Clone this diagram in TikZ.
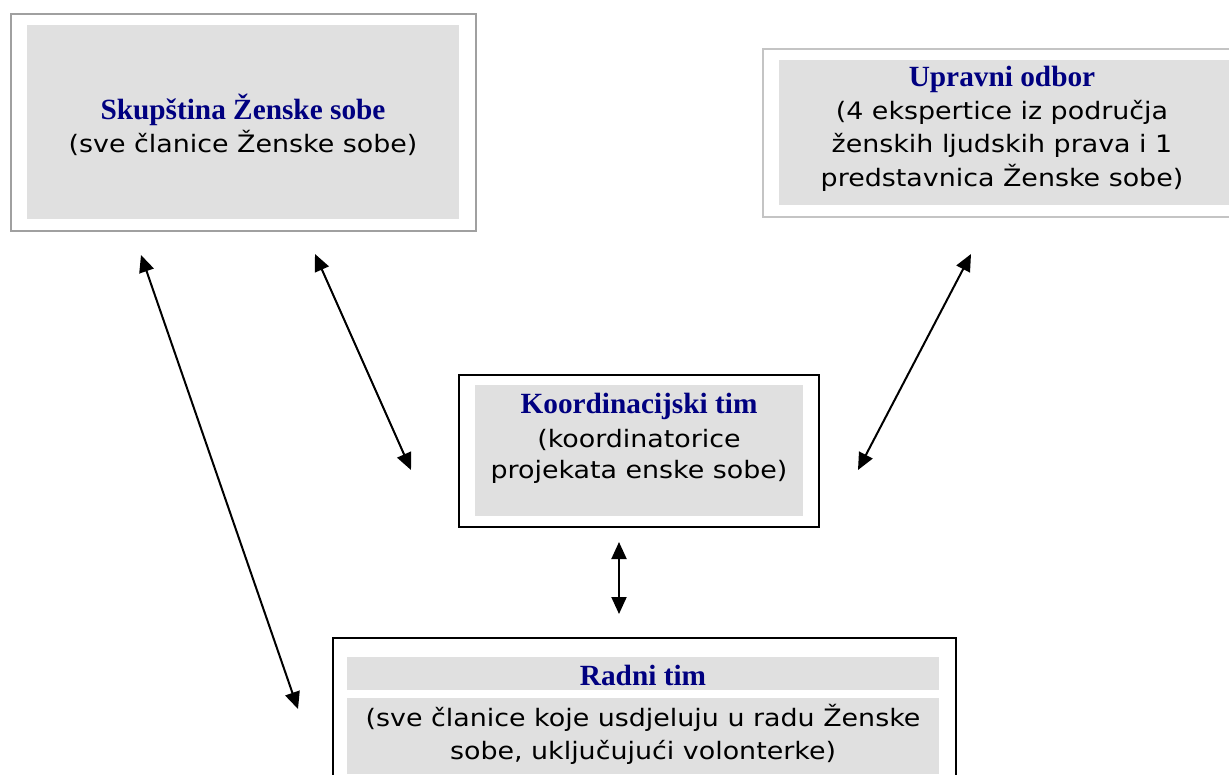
\documentclass[tikz,border=0pt]{standalone}
\usepackage{fontspec}
\setmainfont{DejaVu Sans}[FakeStretch=1.12]
\newfontfamily\titlefont{Liberation Serif}
\usetikzlibrary{arrows.meta}
\definecolor{titleblue}{RGB}{0,0,128}
\definecolor{fillgray}{RGB}{224,224,224}
\definecolor{framegray}{RGB}{160,160,160}
\definecolor{framelight}{RGB}{196,196,196}

\begin{document}
\begin{tikzpicture}[x=1pt,y=-1pt,>={Triangle[length=17pt,width=15pt]}]
    \tikzstyle{frame}=[draw=black,line width=2pt,inner sep=0pt,anchor=north west]
    \tikzstyle{panel}=[fill=fillgray,inner sep=0pt,anchor=north west]
    \tikzstyle{title}=[font=\titlefont\bfseries\fontsize{29.3}{33}\selectfont,text=titleblue,anchor=base,inner sep=0pt]
    \tikzstyle{body}=[font=\fontsize{24}{33}\selectfont,anchor=base,inner sep=0pt]
    \tikzstyle{link}=[<->,line width=2pt]

    \useasboundingbox (0,0) rectangle (1229,774);

    % Draw the frames and the gray panels
    \node[frame,draw=framegray,minimum width=465pt,minimum height=217pt] (skup-frame) at (10,13) {};
    \node[panel,minimum width=432pt,minimum height=194pt] (skup-panel) at (27,25) {};
    \node[frame,draw=framelight,minimum width=480pt,minimum height=168pt] (upr-frame) at (762,48) {};
    \node[panel,minimum width=452pt,minimum height=145pt] (upr-panel) at (779,60) {};
    \node[frame,minimum width=360pt,minimum height=152pt] (koord-frame) at (458,374) {};
    \node[panel,minimum width=328pt,minimum height=131pt] (koord-panel) at (475,385) {};
    \node[frame,minimum width=623pt,minimum height=160pt] (radni-frame) at (332,637) {};
    \node[panel,minimum width=592pt,minimum height=33pt] (radni-head) at (347,657) {};
    \node[panel,minimum width=592pt,minimum height=76pt] (radni-panel) at (347,698) {};

    % Skupstina
    \node[title] (skup-title) at (243,119) {Skupština Ženske sobe};
    \node[body] (skup-1) at (243,152) {(sve članice Ženske sobe)};

    % Upravni odbor
    \node[title] (upr-title) at (1002,86) {Upravni odbor};
    \foreach \txt/\y [count=\i] in {{(4 ekspertice iz područja}/119,{ženskih ljudskih prava i 1}/152,{predstavnica Ženske sobe)}/186}
        \node[body] (upr-\i) at (1002,\y) {\txt};

    % Koordinacijski tim
    \node[title] (koord-title) at (639,413) {Koordinacijski tim};
    \foreach \txt/\y [count=\i] in {{(koordinatorice}/447,{projekata enske sobe)}/478}
        \node[body] (koord-\i) at (639,\y) {\txt};

    % Radni tim
    \node[title] (radni-title) at (643,685) {Radni tim};
    \foreach \txt/\y [count=\i] in {{(sve članice koje usdjeluju u radu Ženske}/726,{sobe, uključujući volonterke)}/759}
        \node[body] (radni-\i) at (643,\y) {\txt};

    % Arrow ends
    \coordinate (a1-top) at (141,255);
    \coordinate (a1-bot) at (298,709);
    \coordinate (a2-top) at (315,254);
    \coordinate (a2-bot) at (411,470);
    \coordinate (a3-top) at (971,254);
    \coordinate (a3-bot) at (858,470);
    \coordinate (a4-top) at (619,542);
    \coordinate (a4-bot) at (619,614);

    % Connect the groups
    \foreach \n in {1,...,4}
        \draw[link] (a\n-top) -- (a\n-bot);
\end{tikzpicture}
\end{document}
